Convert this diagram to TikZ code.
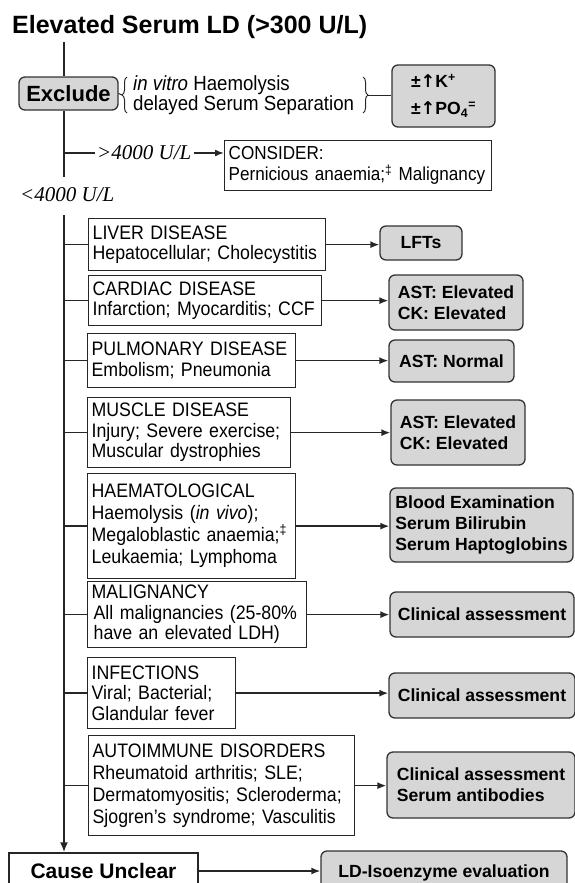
\documentclass[tikz,border=0pt]{standalone}
\usepackage{fontspec}
\setmainfont{Liberation Sans}
\newfontfamily\narrowsans{Liberation Sans}[FakeStretch=0.91]
\newfontfamily\serifit{Liberation Serif}
\newfontfamily\symfont{DejaVu Sans}
\usetikzlibrary{arrows.meta,decorations.pathreplacing}

\begin{document}
\begin{tikzpicture}[x=1pt,y=-1pt,
  every node/.style={inner sep=0pt},
  body/.style={font=\narrowsans\fontsize{19.5}{20.5}\selectfont},
  dzbox/.style={body, draw=black!85, line width=1.3pt, fill=white,
    anchor=north west, align=left, inner xsep=4pt},
  resbox/.style={draw=black!80, line width=1.3pt, rounded corners=6pt,
    fill=black!16, font=\bfseries\fontsize{17.6}{21}\selectfont, align=left},
  wire/.style={line width=1.5pt, draw=black!85},
  thinwire/.style={line width=1pt, draw=black!85},
  arr/.style={wire, -{Latex[length=9pt,width=7pt]}},
  trunk/.style={line width=2pt, draw=black!85},
  lbl/.style={font=\serifit\itshape\fontsize{21}{21}\selectfont, inner xsep=2pt},
  brc/.style={thinwire, decorate, decoration={brace, amplitude=5pt}},
]
\useasboundingbox (0,0) rectangle (575,883);
\clip (0,0) rectangle (575,883);

% title and the trunk line
\node[font=\bfseries\fontsize{25}{25}\selectfont, anchor=west] (title) at (12,27)
  {Elevated Serum LD (>300 U/L)};
\coordinate (mx) at (64,0);
\coordinate (top) at (64,42);
\coordinate (g1) at (64,177);
\coordinate (g2) at (64,215);

% pre-analytical causes
\node[resbox, minimum width=99pt, minimum height=33pt, align=center,
  font=\bfseries\fontsize{22}{22}\selectfont] (excl) at (68.5,93.5) {Exclude};
\node[anchor=west, align=left, font=\narrowsans\fontsize{20.5}{20}\selectfont]
  (why) at (133,95) {\textit{in vitro} Haemolysis\\delayed Serum Separation};
\coordinate (lb1) at (127,113);
\coordinate (lb2) at (127,77);
\coordinate (lbt) at (122,95);
\coordinate (rb1) at (363,77);
\coordinate (rb2) at (363,113);
\coordinate (rbt) at (368,95);
\draw[brc] (lb1) -- (lb2);
\draw[brc] (rb1) -- (rb2);
\node[resbox, minimum width=103pt, minimum height=62pt] (kbox) at (443.5,96)
  {±{\symfont\bfseries ↑}K\textsuperscript{+}\\[6pt]
   ±{\symfont\bfseries ↑}PO\textsubscript{4}\textsuperscript{=}};
\draw[thinwire] (excl.east) -- (lbt);
\draw[thinwire] (rbt) -- (rbt -| kbox.west);

\draw[trunk] (top) -- (excl.north -| top);
\draw[trunk] (excl.south -| top) -- (g1);

% very high values
\node[lbl, anchor=west] (hi) at (95,153) {>4000 U/L};
\node[dzbox, text width=259pt, minimum height=50pt,
  font=\narrowsans\fontsize{18.8}{21}\selectfont] (consider) at (224,140)
  {CONSIDER:\\\mbox{Pernicious anaemia;\textsuperscript{‡}\ Malignancy}};
\draw[wire] (hi.west -| mx) -- (hi.west);
\draw[arr] (hi.east) -- (consider.west |- hi.east);

\node[lbl, anchor=west] (lo) at (18,195) {<4000 U/L};

% disease groups
\node[dzbox, text width=229pt, minimum height=52pt] (liver) at (88,218)
  {LIVER DISEASE\\Hepatocellular; Cholecystitis};
\node[dzbox, text width=225pt, minimum height=50pt] (cardiac) at (88,275)
  {CARDIAC DISEASE\\Infarction; Myocarditis; CCF};
\node[dzbox, text width=200pt, minimum height=54pt] (pulm) at (87,333)
  {PULMONARY DISEASE\\Embolism; Pneumonia};
\node[dzbox, text width=195pt, minimum height=70pt] (muscle) at (87,397)
  {MUSCLE DISEASE\\Injury; Severe exercise;\\Muscular dystrophies};
\node[dzbox, text width=200pt, minimum height=105pt,
  font=\narrowsans\fontsize{19.5}{22}\selectfont] (haem) at (87,473)
  {HAEMATOLOGICAL\\Haemolysis (\textit{in vivo});\\Megaloblastic anaemia;\textsuperscript{‡}\\Leukaemia; Lymphoma};
\node[dzbox, text width=211pt, minimum height=66pt] (malig) at (87,581)
  {MALIGNANCY\\\hspace{2pt}All malignancies (25-80\%\\\hspace{2pt}have an elevated LDH)};
\node[dzbox, text width=140pt, minimum height=71pt] (inf) at (87,657)
  {INFECTIONS\\Viral; Bacterial;\\Glandular fever};
\node[dzbox, text width=258pt, minimum height=100pt,
  font=\narrowsans\fontsize{19.5}{22}\selectfont] (auto) at (88,735)
  {AUTOIMMUNE DISORDERS\\\mbox{Rheumatoid arthritis; SLE;}\\\mbox{Dermatomyositis; Scleroderma;}\\\mbox{Sjogren’s syndrome; Vasculitis}};

% follow-up tests
\node[resbox, minimum width=82pt, minimum height=34pt] (lfts) at (421,243) {LFTs};
\node[resbox, minimum width=134pt, minimum height=55pt] (cardr) at (456,302.5)
  {AST: Elevated\\CK: Elevated};
\node[resbox, minimum width=125pt, minimum height=42pt] (pulmr) at (451.5,361)
  {AST: Normal};
\node[resbox, minimum width=134pt, minimum height=65pt] (muscr) at (458,432.5)
  {AST: Elevated\\CK: Elevated};
\node[resbox, minimum width=183pt, minimum height=74pt] (haemr) at (481.5,525)
  {Blood Examination\\Serum Bilirubin\\Serum Haptoglobins};
\node[resbox, minimum width=184pt, minimum height=45pt] (maligr) at (482,614.5)
  {Clinical assessment};
\node[resbox, minimum width=186pt, minimum height=45pt] (infr) at (482,695.5)
  {Clinical assessment};
\node[resbox, minimum width=188pt, minimum height=66pt] (autor) at (481,785)
  {Clinical assessment\\Serum antibodies};

\foreach \a/\b in {liver/lfts, cardiac/cardr, pulm/pulmr, muscle/muscr,
                   haem/haemr, malig/maligr, inf/infr, auto/autor} {
  \draw[wire] (\a.west -| mx) -- (\a.west);
  \draw[arr] (\a.east) -- (\a.east -| \b.west);
}

% unresolved cases
\node[draw=black!85, line width=1.3pt, fill=white, minimum width=189pt,
  minimum height=36pt, font=\bfseries\fontsize{21}{21}\selectfont] (cause)
  at (103.5,871) {Cause Unclear};
\node[resbox, minimum width=246pt, minimum height=44pt, align=center] (ld)
  at (444,873) {LD-Isoenzyme evaluation};
\draw[trunk, -{Latex[length=10pt,width=8pt]}] (g2) -- (g2 |- cause.north);
\draw[arr] (cause.east) -- (cause.east -| ld.west);
\end{tikzpicture}
\end{document}
